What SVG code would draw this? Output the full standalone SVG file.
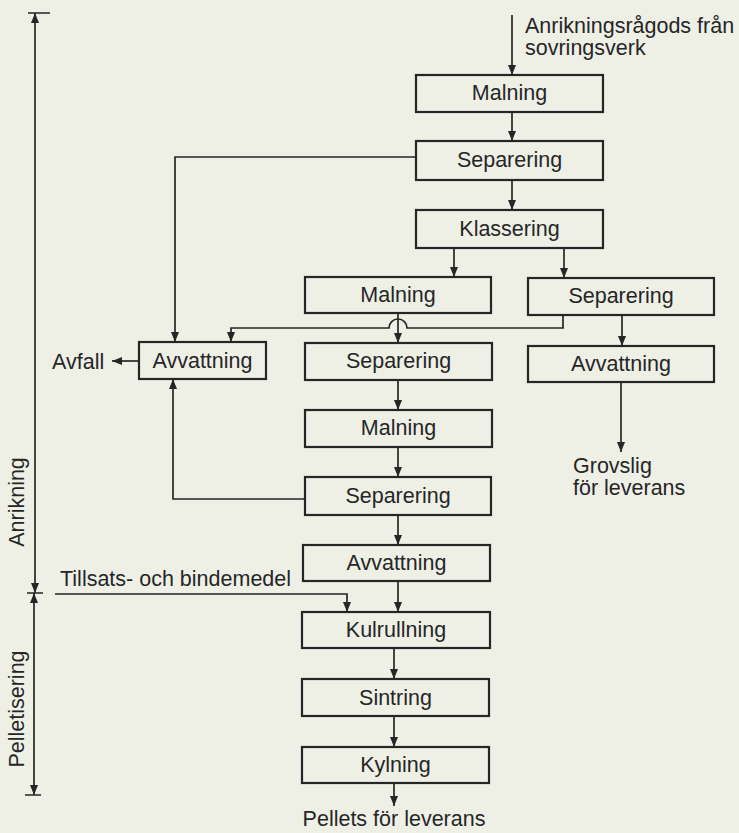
<svg xmlns="http://www.w3.org/2000/svg" width="739" height="833" viewBox="0 0 739 833">
<style>
.bg{fill:#eef0e6}
.box rect{fill:none;stroke:#262626;stroke-width:2.2}
text{font-family:"Liberation Sans",Arial,sans-serif;font-size:21.5px;fill:#262626}
.c{text-anchor:middle}
.ln{fill:none;stroke:#262626;stroke-width:1.7}
</style>
<defs>
<marker id="ah" viewBox="0 0 10 8" markerWidth="10" markerHeight="8" refX="10" refY="4" orient="auto" markerUnits="userSpaceOnUse">
<path d="M0,0 L10,4 L0,8 z" fill="#262626"/>
</marker>
</defs>
<rect class="bg" x="0" y="0" width="739" height="833"/>

<g id="connectors">
<path class="ln" d="M512,15 V75" marker-end="url(#ah)"/>
<path class="ln" d="M512,112 V141" marker-end="url(#ah)"/>
<path class="ln" d="M512,180 V210" marker-end="url(#ah)"/>
<path class="ln" d="M416,157 H175 V342" marker-end="url(#ah)"/>
<path class="ln" d="M454,248 V277" marker-end="url(#ah)"/>
<path class="ln" d="M564,248 V278" marker-end="url(#ah)"/>
<path class="ln" d="M563,315 V328 H407 A9,9 0 0 0 389,328 H231 V342" marker-end="url(#ah)"/>
<path class="ln" d="M398,313 V343" marker-end="url(#ah)"/>
<path class="ln" d="M622,315 V346" marker-end="url(#ah)"/>
<path class="ln" d="M621,382 V452" marker-end="url(#ah)"/>
<path class="ln" d="M139,361 H112" marker-end="url(#ah)"/>
<path class="ln" d="M398,380 V410" marker-end="url(#ah)"/>
<path class="ln" d="M398,447 V477" marker-end="url(#ah)"/>
<path class="ln" d="M305,499 H173 V379" marker-end="url(#ah)"/>
<path class="ln" d="M398,515 V545" marker-end="url(#ah)"/>
<path class="ln" d="M398,581 V612" marker-end="url(#ah)"/>
<path class="ln" d="M55,594 H347 V612" marker-end="url(#ah)"/>
<path class="ln" d="M394,648 V679" marker-end="url(#ah)"/>
<path class="ln" d="M394,716 V747" marker-end="url(#ah)"/>
<path class="ln" d="M394,783 V806" marker-end="url(#ah)"/>
</g>

<g id="bracket">
<path class="ln" d="M28,13 H50 M27,593 H43 M25,795 H41"/>
<path class="ln" d="M35,300 V13" marker-end="url(#ah)"/>
<path class="ln" d="M35,300 V593" marker-end="url(#ah)"/>
<path class="ln" d="M34,700 V593" marker-end="url(#ah)"/>
<path class="ln" d="M34,700 V795" marker-end="url(#ah)"/>
<text class="c" transform="translate(24,502) rotate(-90)">Anrikning</text>
<text class="c" transform="translate(24,709) rotate(-90)">Pelletisering</text>
</g>

<g id="n1" class="box"><rect x="416" y="75" width="187" height="37"/><text class="c" x="509.5" y="100">Malning</text></g>
<g id="n2" class="box"><rect x="416" y="141" width="187" height="39"/><text class="c" x="509.5" y="167">Separering</text></g>
<g id="n3" class="box"><rect x="416" y="210" width="187" height="38"/><text class="c" x="509.5" y="236">Klassering</text></g>
<g id="n4" class="box"><rect x="305" y="277" width="186" height="36"/><text class="c" x="398" y="302">Malning</text></g>
<g id="n5" class="box"><rect x="528" y="278" width="186" height="37"/><text class="c" x="621" y="303">Separering</text></g>
<g id="n6" class="box"><rect x="139" y="342" width="127" height="37"/><text class="c" x="202.5" y="368">Avvattning</text></g>
<g id="n7" class="box"><rect x="305" y="343" width="187" height="37"/><text class="c" x="398.5" y="368">Separering</text></g>
<g id="n8" class="box"><rect x="528" y="346" width="186" height="36"/><text class="c" x="621" y="371">Avvattning</text></g>
<g id="n9" class="box"><rect x="305" y="410" width="187" height="37"/><text class="c" x="398.5" y="435">Malning</text></g>
<g id="n10" class="box"><rect x="305" y="477" width="186" height="38"/><text class="c" x="398" y="503">Separering</text></g>
<g id="n11" class="box"><rect x="303" y="545" width="187" height="36"/><text class="c" x="396.5" y="570">Avvattning</text></g>
<g id="n12" class="box"><rect x="302" y="612" width="188" height="36"/><text class="c" x="396" y="637">Kulrullning</text></g>
<g id="n13" class="box"><rect x="302" y="679" width="187" height="37"/><text class="c" x="395.5" y="705">Sintring</text></g>
<g id="n14" class="box"><rect x="302" y="747" width="187" height="36"/><text class="c" x="395.5" y="772">Kylning</text></g>

<g id="labels">
<text x="525" y="33">Anrikningsrågods från</text>
<text x="525" y="55">sovringsverk</text>
<text x="52" y="369">Avfall</text>
<text x="573" y="473">Grovslig</text>
<text x="573" y="495">för leverans</text>
<text x="60" y="586">Tillsats- och bindemedel</text>
<text class="c" x="394" y="826">Pellets för leverans</text>
</g>
</svg>
